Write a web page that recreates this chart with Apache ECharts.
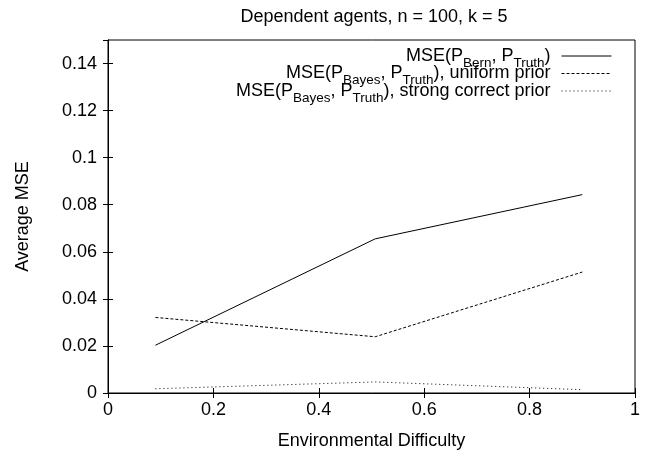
<!DOCTYPE html>
<html>
<head>
<meta charset="utf-8">
<script src="https://cdn.jsdelivr.net/npm/echarts@6/dist/echarts.min.js"></script>
<style>
html,body{margin:0;padding:0;background:#fff;}
#chart{width:657px;height:456px;}
</style>
</head>
<body>
<div id="chart"></div>
<script>
// ---- data ----
var titleText = 'Dependent agents, n = 100, k = 5';
var xName = 'Environmental Difficulty';
var yName = 'Average MSE';
var difficulty = [0.09, 0.507, 0.9];
var mseBern = [0.0203, 0.0655, 0.0843];
var mseBayesUniform = [0.0321, 0.0239, 0.0514];
var mseBayesStrong = [0.0018, 0.0047, 0.0014];
var seriesNames = ['bern', 'uniform', 'strong'];
var legendLabels = {
  bern: '{m|MSE(P}{s|Bern}{m|, P}{s|Truth}{e|)}',
  uniform: '{m|MSE(P}{s|Bayes}{m|, P}{s|Truth}{e|), uniform prior}',
  strong: '{m|MSE(P}{s|Bayes}{m|, P}{s|Truth}{e|), strong correct prior}'
};

function pairs(xs, ys) {
  return xs.map(function (x, i) { return [x, ys[i]]; });
}

var FONT = '"Liberation Sans", Arial, Helvetica, sans-serif';
var FS = 18;
var chart = echarts.init(document.getElementById('chart'), null, {renderer: 'canvas'});

function axisCommon(extra) {
  var base = {
    type: 'value',
    axisLine: {show: true, lineStyle: {color: '#000', width: 1}},
    axisTick: {show: true, inside: true, length: 5, lineStyle: {color: '#000', width: 1}},
    splitLine: {show: false},
    axisLabel: {color: '#000', fontSize: FS, fontFamily: FONT}
  };
  for (var k in extra) base[k] = extra[k];
  return base;
}

chart.setOption({
  animation: false,
  backgroundColor: '#fff',
  textStyle: {fontFamily: FONT},
  title: {
    text: titleText,
    left: 369,
    textAlign: 'center',
    top: 3,
    textStyle: {fontSize: FS, fontWeight: 'normal', color: '#000', fontFamily: FONT}
  },
  grid: {
    left: 108, right: 22, top: 40, bottom: 63,
    show: true, borderColor: '#000', borderWidth: 1, backgroundColor: 'transparent',
    containLabel: false
  },
  legend: {
    orient: 'vertical',
    align: 'right',
    right: 45,
    top: 47,
    padding: 0,
    itemGap: -5.5,
    itemWidth: 50,
    itemHeight: 14,
    data: seriesNames,
    itemStyle: {opacity: 0},
    lineStyle: {width: 1, color: '#000'},
    formatter: function (name) { return legendLabels[name]; },
    textStyle: {
      color: '#000',
      fontFamily: FONT,
      rich: {
        m: {fontSize: FS, lineHeight: 18, color: '#000', fontFamily: FONT},
        e: {fontSize: FS, lineHeight: 18, color: '#000', fontFamily: FONT, padding: [0, 6, 0, 0]},
        s: {fontSize: 13.5, height: 4, lineHeight: 4, verticalAlign: 'bottom', color: '#000', fontFamily: FONT}
      }
    }
  },
  xAxis: [
    axisCommon({
      min: 0, max: 1, interval: 0.2, position: 'bottom',
      name: xName, nameLocation: 'middle', nameGap: 39,
      nameTextStyle: {fontSize: FS, color: '#000', fontFamily: FONT},
      axisLabel: {color: '#000', fontSize: FS, fontFamily: FONT, margin: 8}
    }),
    axisCommon({
      min: 0, max: 1, interval: 0.2, position: 'top',
      axisLabel: {show: false}
    })
  ],
  yAxis: [
    axisCommon({
      min: 0, max: 0.15, interval: 0.02, position: 'left',
      name: yName, nameLocation: 'middle', nameGap: 76, nameRotate: 90,
      nameTextStyle: {fontSize: FS, color: '#000', fontFamily: FONT},
      axisLabel: {color: '#000', fontSize: FS, fontFamily: FONT, margin: 11, showMaxLabel: false}
    }),
    axisCommon({
      min: 0, max: 0.15, interval: 0.02, position: 'right',
      axisLabel: {show: false}
    })
  ],
  series: [
    {
      name: 'bern', type: 'line', data: pairs(difficulty, mseBern),
      symbol: 'none', showSymbol: false,
      lineStyle: {color: '#000', width: 1, type: 'solid'},
      itemStyle: {color: '#000'}
    },
    {
      name: 'uniform', type: 'line', data: pairs(difficulty, mseBayesUniform),
      symbol: 'none', showSymbol: false,
      lineStyle: {color: '#000', width: 1, type: [3, 2]},
      itemStyle: {color: '#000'}
    },
    {
      name: 'strong', type: 'line', data: pairs(difficulty, mseBayesStrong),
      symbol: 'none', showSymbol: false,
      lineStyle: {color: '#000', width: 1, type: [1, 3]},
      itemStyle: {color: '#000'}
    }
  ]
});
</script>
</body>
</html>
